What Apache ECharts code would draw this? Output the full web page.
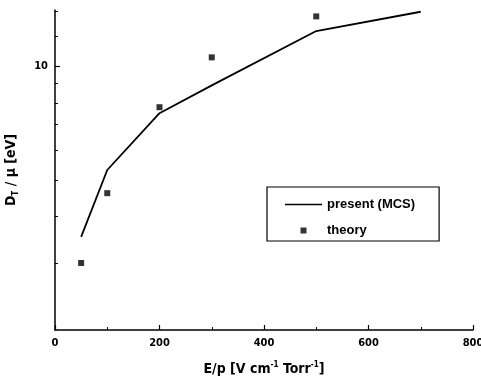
<!DOCTYPE html>
<html>
<head>
<meta charset="utf-8">
<script src="https://cdn.jsdelivr.net/npm/echarts@6/dist/echarts.min.js"></script>
<style>
html,body{margin:0;padding:0;background:#fff;}
#c{width:481px;height:382px;}
</style>
</head>
<body>
<div id="c"></div>
<script>
// Data
const mcsX = [50, 100, 200, 300, 500, 700];
const mcsY = [3.53, 5.31, 7.51, 8.9, 12.4, 13.95];
const theoryX = [50, 100, 200, 300, 500];
const theoryY = [3.01, 4.61, 7.79, 10.56, 13.56];
const xTicks = [0, 200, 400, 600, 800];
const yMajorTicks = [10];
const yMinorTicks = [3, 4, 5, 6, 7, 8, 9, 12, 14];

const FONT = '"Liberation Sans Narrow", "DejaVu Sans Condensed", "Liberation Sans", Arial, sans-serif';
const chart = echarts.init(document.getElementById('c'), null, {renderer: 'canvas'});
const mcs = mcsX.map((x, i) => [x, mcsY[i]]);
const theory = theoryX.map((x, i) => [x, theoryY[i]]);

const option = {
  backgroundColor: '#fff',
  animation: false,
  grid: {left: 55, right: 8, top: 10, bottom: 52, containLabel: false, outerBoundsMode: 'none'},
  legend: {
    left: 267, top: 187,
    orient: 'vertical',
    backgroundColor: '#fff',
    borderColor: '#000', borderWidth: 1.2,
    padding: [11, 24, 4, 18],
    itemWidth: 37, itemHeight: 6, itemGap: 13,
    symbolKeepAspect: true,
    textStyle: {fontFamily: 'Liberation Sans, Arial, sans-serif', fontWeight: 'bold', fontSize: 13, color: '#000'},
    data: [
      {name: 'present (MCS)', icon: 'path://M0,0H37V1.3H0Z', itemStyle: {color: '#000'}},
      {name: 'theory', icon: 'path://M0,0H1V1H0Z', itemStyle: {color: '#000'}}
    ]
  },
  xAxis: {
    type: 'value', min: 0, max: 800, interval: 200,
    name: 'E/p [V cm{sup|-1} Torr{sup|-1}]',
    nameLocation: 'middle', nameGap: 31,
    nameTextStyle: {
      fontFamily: FONT, fontWeight: 'bold', fontSize: 14, color: '#000', lineHeight: 17,
      rich: {sup: {fontFamily: FONT, fontWeight: 'bold', fontSize: 8, verticalAlign: 'top', lineHeight: 9, color: '#000'}}
    },
    axisLine: {lineStyle: {color: '#000', width: 1.5}},
    axisTick: {inside: true, length: 5, lineStyle: {color: '#000', width: 1.2}},
    minorTick: {show: true, splitNumber: 2, length: 3, lineStyle: {color: '#000', width: 1}},
    axisLabel: {
      margin: 8, fontFamily: FONT, fontWeight: 'bold', fontSize: 11, color: '#000',
      customValues: xTicks
    },
    splitLine: {show: false}
  },
  yAxis: [{
    type: 'log', min: 2, max: 14.1, position: 'left',
    name: 'D{sub|T} / μ [eV]',
    nameLocation: 'middle', nameGap: 35, nameRotate: 90,
    nameTextStyle: {
      fontFamily: FONT, fontWeight: 'bold', fontSize: 14, color: '#000', lineHeight: 17,
      rich: {sub: {fontFamily: FONT, fontWeight: 'bold', fontSize: 8, verticalAlign: 'bottom', lineHeight: 9, color: '#000'}}
    },
    axisLine: {show: true, lineStyle: {color: '#000', width: 1.5}},
    axisTick: {inside: true, length: 5, customValues: yMajorTicks, lineStyle: {color: '#000', width: 1.2}},
    axisLabel: {margin: 7, fontFamily: FONT, fontWeight: 'bold', fontSize: 11, color: '#000', customValues: yMajorTicks},
    splitLine: {show: false}
  }, {
    type: 'log', min: 2, max: 14.1, position: 'left',
    axisLine: {show: false},
    axisTick: {inside: true, length: 3, customValues: yMinorTicks, lineStyle: {color: '#000', width: 1}},
    axisLabel: {show: false},
    splitLine: {show: false}
  }],
  series: [{
    name: 'present (MCS)', type: 'line', data: mcs,
    showSymbol: false, symbol: 'none',
    lineStyle: {color: '#000', width: 1.8},
    itemStyle: {color: '#000'}
  }, {
    name: 'theory', type: 'scatter', data: theory,
    symbol: 'rect', symbolSize: 6,
    itemStyle: {color: '#000'}
  }]
};
chart.setOption(option);
</script>
</body>
</html>
